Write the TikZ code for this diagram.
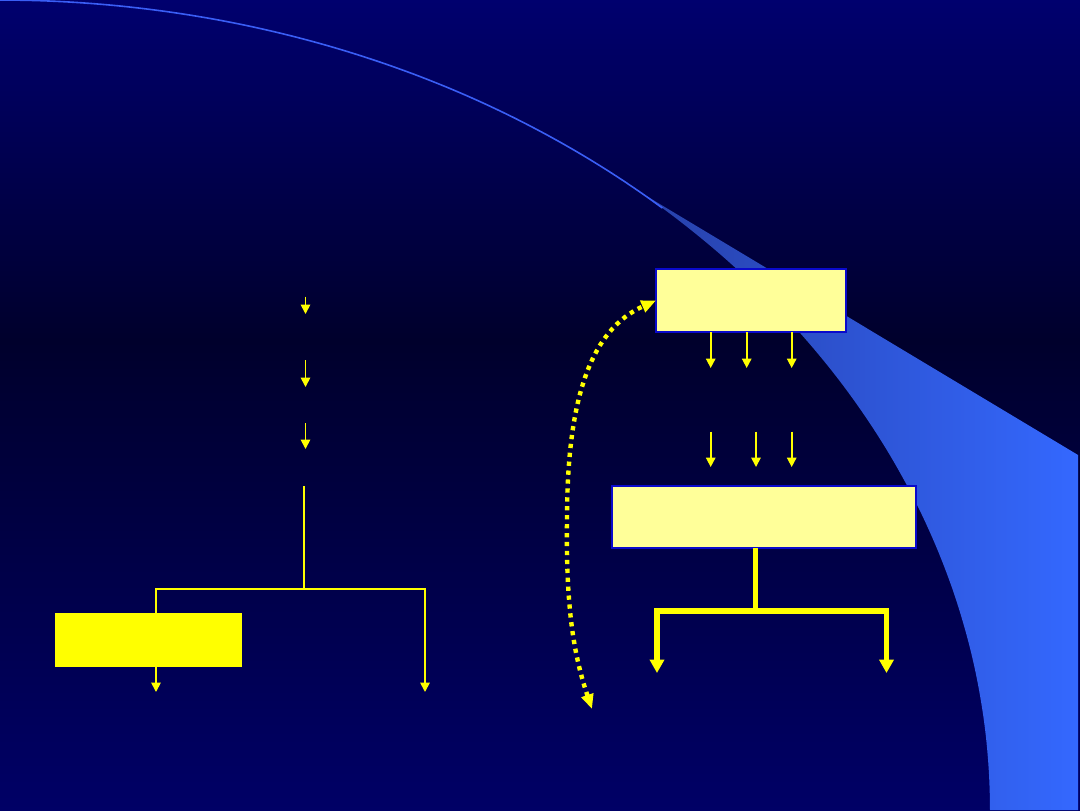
\documentclass[tikz,border=0pt]{standalone}
\usetikzlibrary{arrows.meta,calc}
\definecolor{bgtop}{HTML}{00006E}
\definecolor{bgmid}{HTML}{00002C}
\definecolor{bgbot}{HTML}{000066}
\definecolor{swdark}{HTML}{2740A8}
\definecolor{swlight}{HTML}{3468FF}
\definecolor{swline}{HTML}{3A5EF5}
\definecolor{ylw}{HTML}{FFFF00}
\definecolor{paleylw}{HTML}{FFFF99}
\definecolor{boxedge}{HTML}{0A0ACC}
\pgfdeclareverticalshading{bgshade}{100bp}{color(0bp)=(bgbot); color(25bp)=(bgbot); color(54bp)=(bgmid); color(75bp)=(bgtop); color(100bp)=(bgtop)}
\begin{document}
\begin{tikzpicture}[x=0.75pt,y=-0.75pt,
  thinarrow/.style={draw=ylw, line width=1.3pt, -{Triangle[length=7pt,width=7pt]}},
  thinline/.style={draw=ylw, line width=1.3pt},
  thinboth/.style={draw=ylw, line width=1.3pt, line join=miter, {Triangle[length=7pt,width=7pt]}-{Triangle[length=7pt,width=7pt]}},
  thickline/.style={draw=ylw, line width=4pt},
  thickarrow/.style={draw=ylw, line width=4pt, line join=miter, {Triangle[length=10pt,width=10.5pt]}-{Triangle[length=10pt,width=10.5pt]}},
  dotarrow/.style={draw=ylw, line width=3.3pt, dash pattern=on 3.2pt off 3.5pt, {Triangle[length=11pt,width=9pt]}-{Triangle[length=11pt,width=9pt]}},
  palebox/.style={draw=boxedge, line width=1.5pt, fill=paleylw, inner sep=0pt, outer sep=0pt},
  solidbox/.style={fill=ylw, inner sep=0pt, outer sep=0pt}]

\useasboundingbox (0,0) rectangle (1080,810);
% background
\shade[shading=bgshade] (0,0) rectangle (1080,810);
% swoosh
\shade[left color=swdark, right color=swlight]
  plot[smooth, samples=60, domain=40.3:90] ({990*sin(\x)},{810-810*cos(\x)})
  -- (1078,810) -- (1078,455) -- cycle;
\draw[swline, line width=1.2pt]
  plot[smooth, samples=40, domain=0:42] ({990*sin(\x)},{810-810*cos(\x)});

% right boxes
\node[palebox, minimum width=142.5pt, minimum height=47.25pt] (box1) at (751,300.5) {};
\node[palebox, minimum width=228pt, minimum height=46.5pt] (box2) at (764,517) {};

% arrows under box1
\foreach \n/\xx in {a/710.7, b/746.7, c/791.7} {
  \coordinate (t1\n) at (\xx,368);
  \draw[thinarrow] (box1.south -| t1\n) -- (t1\n);
}
% second row of arrows
\foreach \n/\xx in {a/710.7, b/756, c/791.7} {
  \coordinate (s2\n) at (\xx,431.7);
  \coordinate (t2\n) at (\xx,467);
  \draw[thinarrow] (s2\n) -- (t2\n);
}

% thick tree under box2
\coordinate (trunk) at (755.5,611);
\coordinate (tl) at (657,611);
\coordinate (tr) at (886.5,611);
\coordinate (tipL) at (657,673);
\coordinate (tipR) at (886.5,673);
\draw[thickline] (box2.south -| trunk) -- (trunk);
\draw[thickarrow] (tipL) -- (tl) -- (tr) -- (tipR);

% dotted curved arrow
\coordinate (dB) at (592,709);
\draw[dotarrow] (dB) .. controls (572,650) and (566,600) .. (567,520)
  .. controls (567,400) and (590,330) .. (box1.west);

% left column arrows
\foreach \n/\ya/\yb in {a/296.7/314, b/360/387, c/423/449} {
  \coordinate (ls\n) at (305.5,\ya);
  \coordinate (lt\n) at (305.5,\yb);
  \draw[thinarrow] (ls\n) -- (lt\n);
}

% left tree
\coordinate (ltop) at (304,486);
\coordinate (ljun) at (304,589);
\coordinate (lleft) at (156,589);
\coordinate (lright) at (425,589);
\coordinate (ltipL) at (156,692);
\coordinate (ltipR) at (425,692);
\draw[thinline] (ltop) -- (ljun);
\draw[thinboth] (ltipL) -- (lleft) -- (lright) -- (ltipR);
\node[solidbox, minimum width=140.25pt, minimum height=40.5pt] (ybox) at (148.5,640) {};
\end{tikzpicture}
\end{document}
